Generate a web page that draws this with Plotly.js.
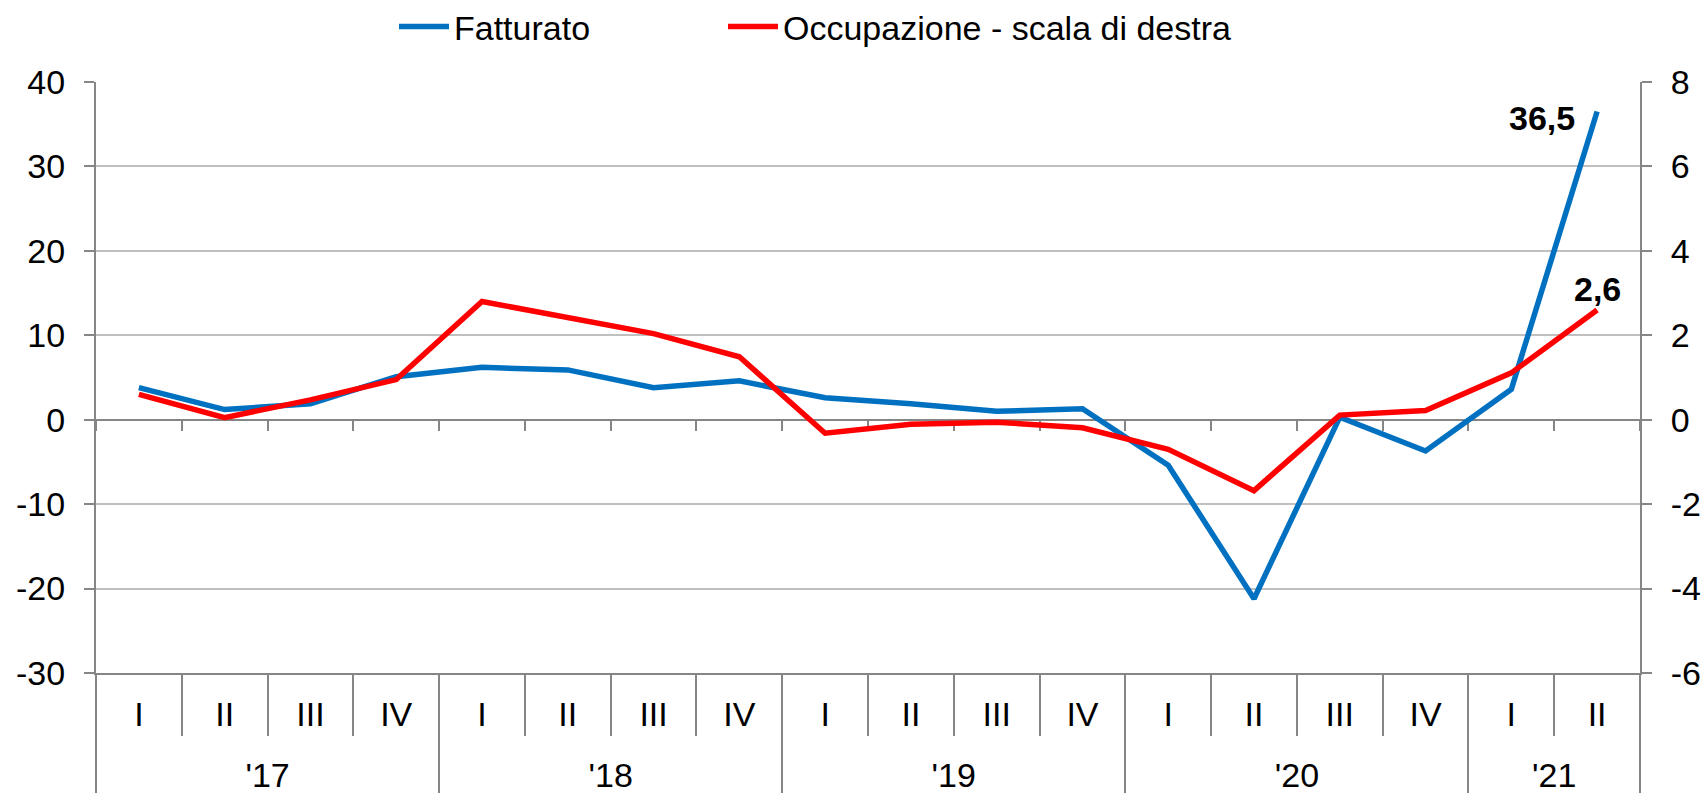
<!DOCTYPE html>
<html>
<head>
<meta charset="utf-8">
<script src="https://cdn.plot.ly/plotly-3.0.1.min.js"></script>
<style>html,body{margin:0;padding:0;background:#fff;}#chart{width:1704px;height:793px;}</style>
</head>
<body>
<div id="chart"></div>
<script>
const yearOfPoint = ["'17","'17","'17","'17","'18","'18","'18","'18","'19","'19","'19","'19","'20","'20","'20","'20","'21","'21"];
const quarters = ["I","II","III","IV","I","II","III","IV","I","II","III","IV","I","II","III","IV","I","II"];
const fatturato = [3.8, 1.2, 1.9, 5.1, 6.2, 5.9, 3.8, 4.6, 2.6, 1.9, 1.0, 1.3, -5.4, -21.2, 0.3, -3.7, 3.6, 36.5];
const occupazione = [0.6, 0.05, 0.47, 0.95, 2.8, 2.43, 2.04, 1.49, -0.32, -0.11, -0.06, -0.19, -0.7, -1.68, 0.11, 0.22, 1.11, 2.6];
const leftTicks = [-30, -20, -10, 0, 10, 20, 30, 40];
const rightTicks = [-6, -4, -2, 0, 2, 4, 6, 8];
const seriesNames = ["Fatturato", "Occupazione - scala di destra"];

const catLabels = yearOfPoint.map((y, i) => y + " " + quarters[i]);
const idx = quarters.map((_, i) => i);
const yearLabels = [...new Set(yearOfPoint)];
const yearCenters = yearLabels.map(y => {
  const ii = idx.filter(i => yearOfPoint[i] === y);
  return (ii[0] + ii[ii.length - 1]) / 2;
});
const yearBounds = [-0.5].concat(yearLabels.map(y => {
  const ii = idx.filter(i => yearOfPoint[i] === y);
  return ii[ii.length - 1] + 0.5;
}));

const FONT = "Liberation Sans, Arial, sans-serif";
const FS = 34;
const AX = "#868686";
const GRID = "#C0C0C0";
const fmt = v => String(v).replace(".", ",");
const last = fatturato.length - 1;
const XR = [-0.5, quarters.length - 0.5];

const traces = [
  {
    type: "scatter", mode: "lines", name: seriesNames[0], legend: "legend",
    x: catLabels, y: fatturato, xaxis: "x", yaxis: "y",
    line: {color: "#0070C0", width: 5.5}
  },
  {
    type: "scatter", mode: "lines", name: seriesNames[1], legend: "legend2",
    x: catLabels, y: occupazione, xaxis: "x2", yaxis: "y2",
    line: {color: "#FF0000", width: 5.5}
  },
  {type: "scatter", mode: "none", x: catLabels, y: fatturato, xaxis: "x3", yaxis: "y", showlegend: false, hoverinfo: "skip"},
  {type: "scatter", mode: "none", x: idx, y: fatturato, xaxis: "x4", yaxis: "y", showlegend: false, hoverinfo: "skip"},
  {type: "scatter", mode: "none", x: idx, y: fatturato, xaxis: "x5", yaxis: "y", showlegend: false, hoverinfo: "skip"}
];

const legendCommon = {
  orientation: "h", xref: "container", yref: "container",
  xanchor: "left", y: 1 - 27 / 793, yanchor: "middle",
  font: {family: FONT, size: FS, color: "#000"}, bgcolor: "rgba(0,0,0,0)", itemwidth: 50
};

const layout = {
  width: 1704, height: 793,
  margin: {l: 96, r: 64, t: 82, b: 120},
  paper_bgcolor: "#fff", plot_bgcolor: "#fff",
  font: {family: FONT, size: FS, color: "#000"},
  showlegend: true,
  legend: Object.assign({}, legendCommon, {x: 394 / 1704}),
  legend2: Object.assign({}, legendCommon, {x: 723 / 1704}),
  xaxis: {
    type: "category", range: XR,
    showline: true, linecolor: AX, linewidth: 2,
    ticks: "", showgrid: false, zeroline: false,
    tickvals: catLabels, ticktext: quarters,
    ticklabelstandoff: 10,
    tickfont: {family: FONT, size: FS, color: "#000"}
  },
  xaxis2: {
    type: "category", overlaying: "x", anchor: "free", position: 30 / 70,
    range: XR, showline: true, linecolor: AX, linewidth: 2,
    ticks: "outside", tickson: "boundaries", ticklen: 10, tickwidth: 2, tickcolor: AX,
    showticklabels: false, showgrid: false, zeroline: false, layer: "below traces"
  },
  xaxis3: {
    type: "category", overlaying: "x", anchor: "y",
    range: XR, showline: false,
    ticks: "outside", tickson: "boundaries", ticklen: 62, tickwidth: 2, tickcolor: AX,
    showticklabels: false, showgrid: false, zeroline: false
  },
  xaxis4: {
    type: "linear", overlaying: "x", anchor: "y",
    range: XR, showline: false, ticks: "", showgrid: false, zeroline: false,
    tickvals: yearCenters, ticktext: yearLabels,
    ticklabelstandoff: 79,
    tickfont: {family: FONT, size: FS, color: "#000"}
  },
  xaxis5: {
    type: "linear", overlaying: "x", anchor: "y",
    range: XR, showline: false,
    tickvals: yearBounds, ticks: "outside", ticklen: 120, tickwidth: 2, tickcolor: AX,
    showticklabels: false, showgrid: false, zeroline: false
  },
  yaxis: {
    range: [-30, 40], tickvals: leftTicks, ticktext: leftTicks.map(String),
    showline: true, linecolor: AX, linewidth: 2,
    ticks: "outside", ticklen: 10, tickwidth: 2, tickcolor: AX,
    showgrid: true, gridcolor: GRID, gridwidth: 2, zeroline: false,
    ticklabelstandoff: 12,
    tickfont: {family: FONT, size: FS, color: "#000"}
  },
  yaxis2: {
    overlaying: "y", side: "right", anchor: "x",
    range: [-6, 8], tickvals: rightTicks, ticktext: rightTicks.map(String),
    showline: true, linecolor: AX, linewidth: 2,
    ticks: "outside", ticklen: 10, tickwidth: 2, tickcolor: AX,
    showgrid: false, zeroline: false,
    ticklabelstandoff: 12,
    tickfont: {family: FONT, size: FS, color: "#000"}
  },
  annotations: [
    {
      xref: "x2", yref: "y", x: catLabels[last], y: fatturato[last],
      text: "<b>" + fmt(fatturato[last]) + "</b>", showarrow: false,
      xanchor: "right", yanchor: "middle", xshift: -20, yshift: -6,
      font: {family: FONT, size: FS, color: "#000"}
    },
    {
      xref: "x2", yref: "y2", x: catLabels[last], y: occupazione[last],
      text: "<b>" + fmt(occupazione[last]) + "</b>", showarrow: false,
      xanchor: "center", yanchor: "bottom", xshift: 0, yshift: 0,
      font: {family: FONT, size: FS, color: "#000"}
    }
  ]
};

Plotly.newPlot("chart", traces, layout, {displayModeBar: false, staticPlot: true});
</script>
</body>
</html>
